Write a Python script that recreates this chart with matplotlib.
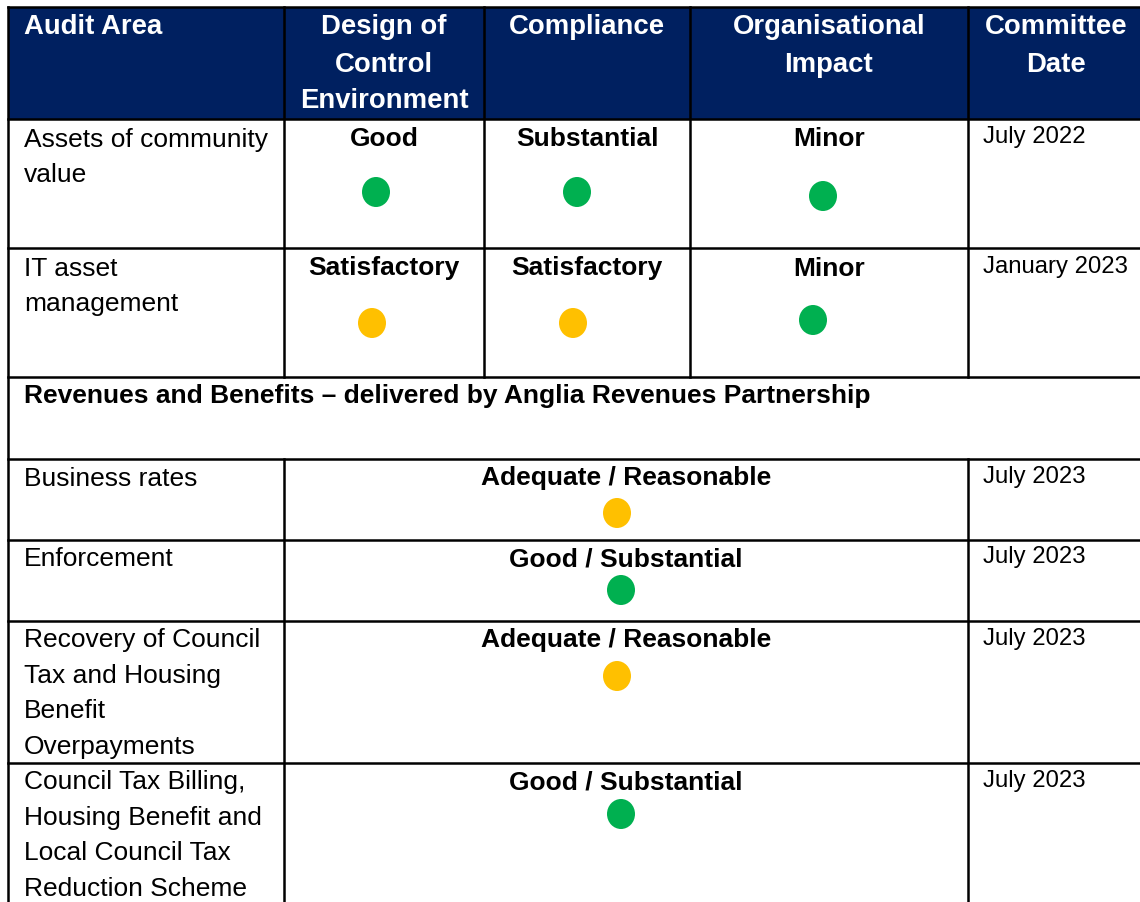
import matplotlib.pyplot as plt
from matplotlib.patches import Rectangle, Ellipse

plt.rcParams['font.family'] = ['Liberation Sans', 'DejaVu Sans']

# ---- table content ----
headers = ["Audit Area", "Design of\nControl\nEnvironment", "Compliance",
           "Organisational\nImpact", "Committee\nDate"]

areas = ["Assets of community\nvalue", "IT asset\nmanagement"]
design = ["Good", "Satisfactory"]
compliance = ["Substantial", "Satisfactory"]
impact = ["Minor", "Minor"]
design_rag = ["green", "amber"]
compliance_rag = ["green", "amber"]
impact_rag = ["green", "green"]
dates = ["July 2022", "January 2023"]

section_title = "Revenues and Benefits \u2013 delivered by Anglia Revenues Partnership"

arp_areas = ["Business rates", "Enforcement",
             "Recovery of Council\nTax and Housing\nBenefit\nOverpayments",
             "Council Tax Billing,\nHousing Benefit and\nLocal Council Tax\nReduction Scheme"]
arp_ratings = ["Adequate / Reasonable", "Good / Substantial",
               "Adequate / Reasonable", "Good / Substantial"]
arp_rag = ["amber", "green", "amber", "green"]
arp_dates = ["July 2023", "July 2023", "July 2023", "July 2023"]

rag_colours = {"green": "#00B050", "amber": "#FFC000"}
navy = "#002060"

# ---- layout (pixels) ----
W, H = 1140, 902
left, right, top = 8, 1140, 7
col_x = [284, 484, 690, 968]
header_bottom = 119
row_tops = [119, 248]
section_top, section_bottom = 377, 459
arp_tops = [459, 540, 621, 763]
col_centres = [384, 587, 829]
date_x = 983
text_x = 24
body_gap = 35.5
head_gap = 37
dy = 2.5  # text baseline nudge
# dot centres for the two assessed rows (x, y) per column
dot_pos = [[(376, 192), (577, 192), (823, 196)],
           [(372, 323), (573, 323), (813, 320)]]
arp_dot = [(617, 513), (621, 590), (617, 676), (621, 814)]

fig = plt.figure(figsize=(W / 100, H / 100), dpi=100)
ax = fig.add_axes([0, 0, 1, 1])
ax.set_xlim(0, W)
ax.set_ylim(H, 0)
ax.axis('off')

lw = 1.8
body_fs = 19
head_fs = 19.8
date_fs = 17.2


def lines(x, y, s, gap, **kw):
    for i, part in enumerate(s.split("\n")):
        ax.text(x, y + dy + i * gap, part, va='center', **kw)


def dot(x, y, rag):
    ax.add_patch(Ellipse((x, y), 28, 30, facecolor=rag_colours[rag], edgecolor='none', zorder=3))


# header
ax.add_patch(Rectangle((left, top), right - left, header_bottom - top, facecolor=navy, edgecolor='none'))
head_x = [text_x, 384, 587, 829, 1056]
for i, h in enumerate(headers):
    ha = 'left' if i == 0 else 'center'
    lines(head_x[i], 25, h, head_gap, ha=ha, color='white', fontsize=head_fs, fontweight='bold')

# assessed rows
for r in range(len(areas)):
    y0 = row_tops[r] + 18
    lines(text_x, y0, areas[r], body_gap, ha='left', fontsize=body_fs)
    for c, (val, rag) in enumerate(zip([design[r], compliance[r], impact[r]],
                                       [design_rag[r], compliance_rag[r], impact_rag[r]])):
        lines(col_centres[c], y0, val, body_gap, ha='center', fontsize=body_fs, fontweight='bold')
        dot(*dot_pos[r][c], rag)
    lines(date_x, y0 - 2, dates[r], body_gap, ha='left', fontsize=date_fs)

# section row
lines(text_x, section_top + 17, section_title, body_gap, ha='left',
      fontsize=body_fs, fontweight='bold')

# ARP rows
for r in range(len(arp_areas)):
    y0 = arp_tops[r] + 17
    lines(text_x, y0, arp_areas[r], body_gap, ha='left', fontsize=body_fs)
    lines((col_x[0] + col_x[3]) / 2, y0, arp_ratings[r], body_gap, ha='center',
          fontsize=body_fs, fontweight='bold')
    dot(*arp_dot[r], arp_rag[r])
    lines(date_x, y0 - 2, arp_dates[r], body_gap, ha='left', fontsize=date_fs)

# grid lines
for y in [top, header_bottom, row_tops[1], section_top, section_bottom] + arp_tops[1:]:
    ax.plot([left, right], [y, y], color='black', lw=lw, solid_capstyle='projecting')
ax.plot([left, left], [top, H], color='black', lw=lw)
for x in col_x:
    ax.plot([x, x], [top, section_top], color='black', lw=lw)
for x in [col_x[0], col_x[3]]:
    ax.plot([x, x], [section_bottom, H], color='black', lw=lw)

fig.savefig('out.png', dpi=100)
